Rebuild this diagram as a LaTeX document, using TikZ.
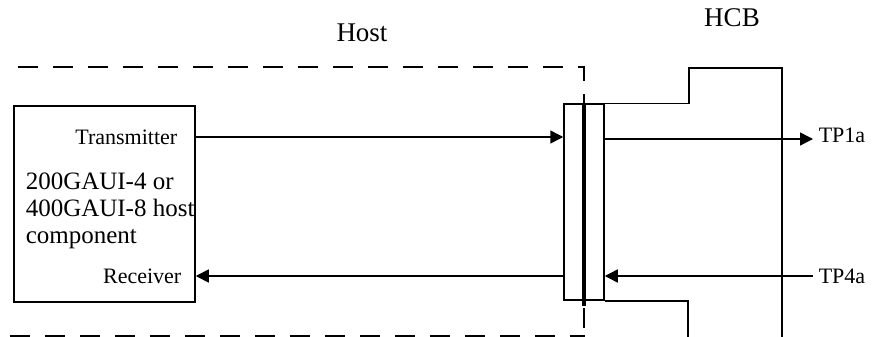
\documentclass[tikz,border=0pt]{standalone}
\usepackage{fontspec}
\setmainfont{Liberation Serif}
\usetikzlibrary{arrows.meta,positioning}

\begin{document}
\begin{tikzpicture}[x=0.5pt,y=-0.5pt,>={Triangle[length=6.5pt,width=6.5pt]},line width=0.75pt,
  small label/.style={font=\fontsize{11}{13}\selectfont,inner sep=0pt},
  big label/.style={font=\fontsize{13.5}{16}\selectfont,inner sep=0pt},
  host box/.style={draw,minimum width=90.5pt,minimum height=98pt,inner sep=0pt},
  conn box/.style={draw,minimum width=20pt,minimum height=98pt,inner sep=0pt},
  host edge/.style={dashed,dash pattern=on 10pt off 7.5pt,line width=1pt}]

            \useasboundingbox (0,0) rectangle (873,337);

            \node[big label] (host) at (362,33) {Host};
            \node[big label] (hcb) at (732,18) {HCB};

            \node[host box] (comp) at (104.5,204) {};
            \node[conn box] (conn) at (584,202) {};

            \node[small label, anchor=east] (tx) at (178,137) {Transmitter};
            \node[small label, anchor=east] (rx) at (182,276) {Receiver};
            \node[anchor=west, align=left, inner sep=0pt, font=\fontsize{12.5}{13.5}\selectfont] (name) at (25,211) {200GAUI-4 or\\400GAUI-8 host\\component};

            \node[small label, anchor=west] (tp1) at (818,135) {TP1a};
            \node[small label, anchor=west] (tp4) at (818,276) {TP4a};
            \coordinate (tp1end) at (813,139);
            \coordinate (tp4end) at (813,276);

            % host edge
            \draw[host edge] (18,67) -| (584,94);
            \draw[host edge] (584,308) -- (584,337);
            \draw[host edge] (10,336) -- (585,336);

            % HCB outline
            \draw (conn.north east) -- ++(84,0) |- (782,68) -- (782,337);
            \draw (conn.south east) -| (688,337);

            % mating plane
            \draw (584,94) -- (584,104);
            \draw[line width=1.6pt] (584,104) -- (584,306);

            \draw[->] (comp.east |- tx) to (conn.west |- tx);
            \draw[->] (conn.west |- rx) to (comp.east |- rx);
            \draw[->] (conn.east |- tp1end) to (tp1end);
            \draw[->] (tp4end) to (conn.east |- tp4end);

            ;
        \end{tikzpicture}
\end{document}
